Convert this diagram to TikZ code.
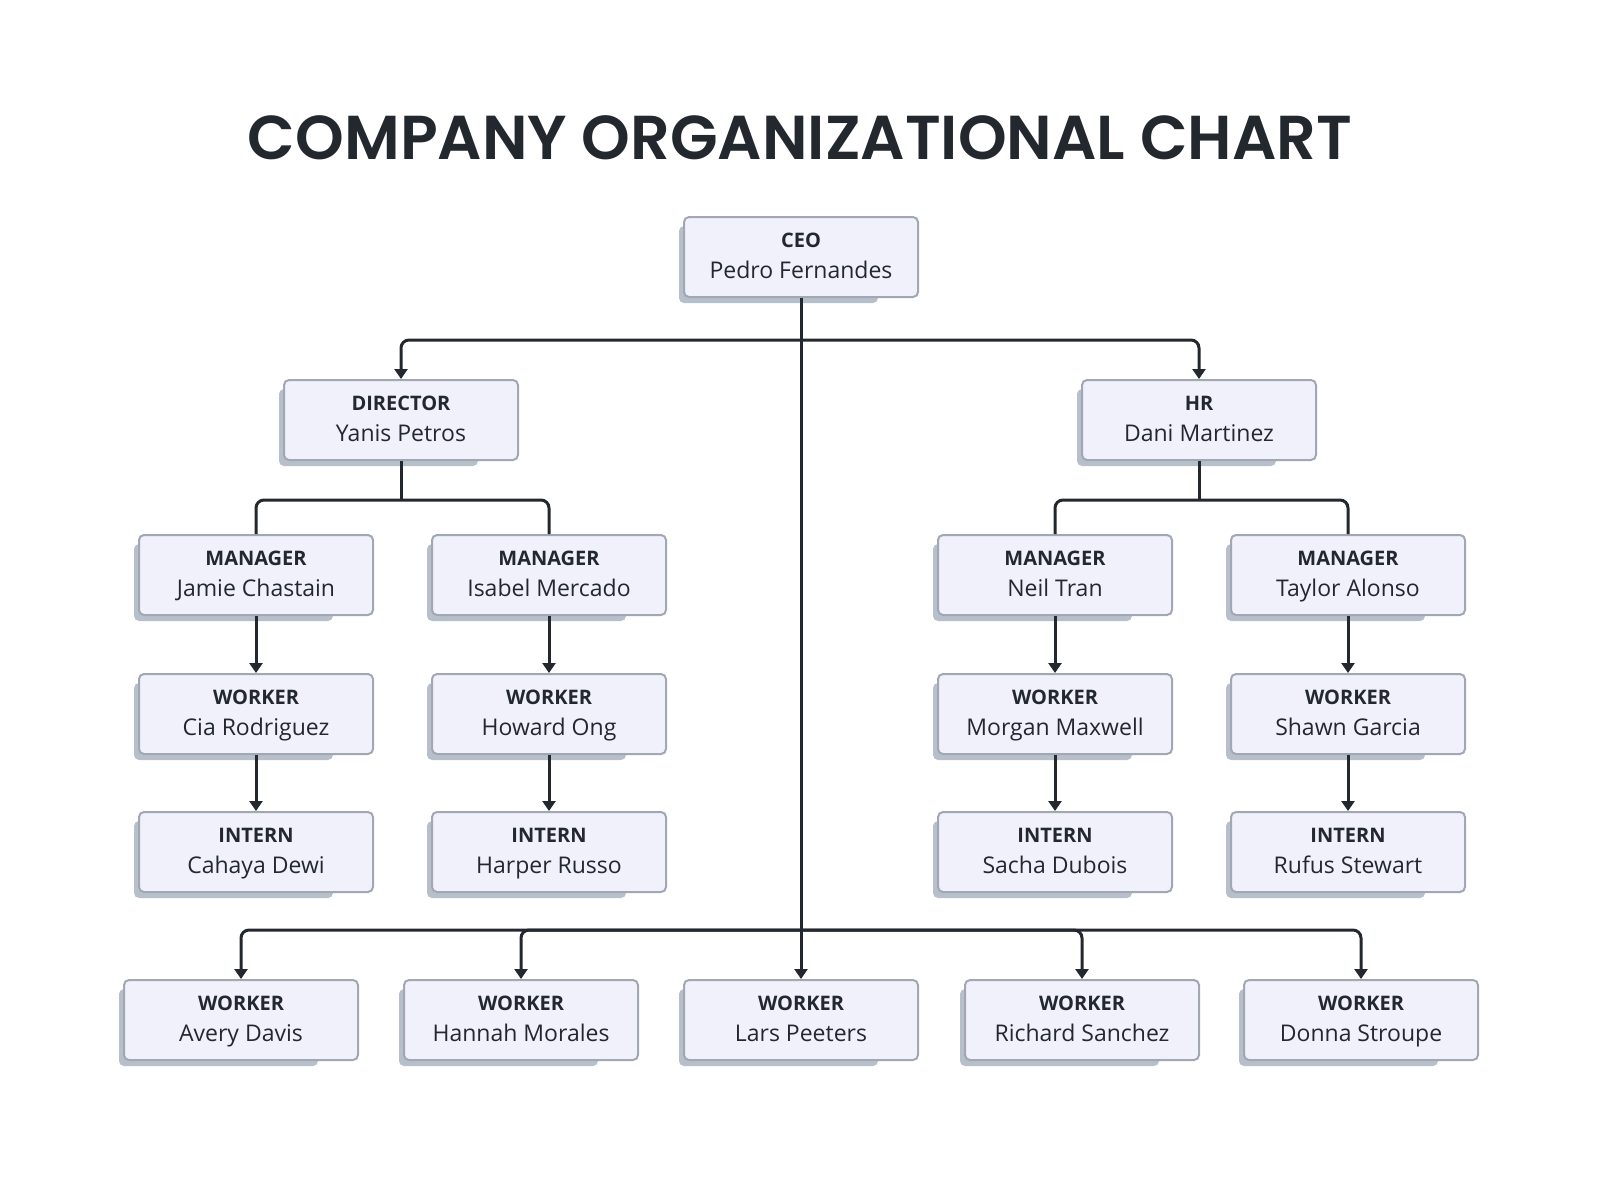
\documentclass[tikz,border=0pt]{standalone}
\usepackage{fontspec}
\setmainfont{Open Sans}
\newfontfamily\headfont{Poppins}[BoldFont={Poppins SemiBold}]
\usepackage{xcolor}
\usetikzlibrary{arrows.meta, backgrounds}
\definecolor{Ink}{HTML}{23282F}
\definecolor{BoxFill}{HTML}{F0F1FB}
\definecolor{BoxLine}{HTML}{A1A8B4}
\definecolor{Shade}{HTML}{B7BFCB}
\tikzset{
  person/.style={draw=BoxLine, fill=BoxFill, line width=2pt, rounded corners=5pt,
                 minimum width=234pt, minimum height=80pt, align=center,
                 text=Ink, font=\fontsize{23}{31}\selectfont, inner sep=0pt},
  arr/.style={-{Triangle[length=10pt,width=13pt]}, line width=3pt, draw=Ink,
              rounded corners=8pt},
  link/.style={line width=3pt, draw=Ink, rounded corners=8pt},
  title/.style={font=\headfont\bfseries\fontsize{62}{70}\selectfont, text=Ink},
}
\newcommand{\who}[2]{{\bfseries\fontsize{20}{31}\selectfont #1\strut}\\#2\strut}

\begin{document}
\begin{tikzpicture}[x=1pt, y=-1pt]
  \useasboundingbox (0,0) rectangle (1600,1200);
  \node[title] (title) at (800,138) {COMPANY ORGANIZATIONAL CHART};

  % ---- top of the tree ----
  \node[person] (ceo)      at (801,257)  {\who{CEO}{Pedro Fernandes}};
  \node[person] (director) at (401,420)  {\who{DIRECTOR}{Yanis Petros}};
  \node[person] (hr)       at (1199,420) {\who{HR}{Dani Martinez}};

  % ---- managers, workers, interns ----
  \node[person] (mgr1) at (256,575)  {\who{MANAGER}{Jamie Chastain}};
  \node[person] (mgr2) at (549,575)  {\who{MANAGER}{Isabel Mercado}};
  \node[person] (mgr3) at (1055,575) {\who{MANAGER}{Neil Tran}};
  \node[person] (mgr4) at (1348,575) {\who{MANAGER}{Taylor Alonso}};

  \node[person] (wkr1) at (256,714)  {\who{WORKER}{Cia Rodriguez}};
  \node[person] (wkr2) at (549,714)  {\who{WORKER}{Howard Ong}};
  \node[person] (wkr3) at (1055,714) {\who{WORKER}{Morgan Maxwell}};
  \node[person] (wkr4) at (1348,714) {\who{WORKER}{Shawn Garcia}};

  \node[person] (int1) at (256,852)  {\who{INTERN}{Cahaya Dewi}};
  \node[person] (int2) at (549,852)  {\who{INTERN}{Harper Russo}};
  \node[person] (int3) at (1055,852) {\who{INTERN}{Sacha Dubois}};
  \node[person] (int4) at (1348,852) {\who{INTERN}{Rufus Stewart}};

  % ---- bottom row ----
  \node[person] (avery)   at (241,1020)  {\who{WORKER}{Avery Davis}};
  \node[person] (hannah)  at (521,1020)  {\who{WORKER}{Hannah Morales}};
  \node[person] (lars)    at (801,1020)  {\who{WORKER}{Lars Peeters}};
  \node[person] (richard) at (1082,1020) {\who{WORKER}{Richard Sanchez}};
  \node[person] (donna)   at (1361,1020) {\who{WORKER}{Donna Stroupe}};

  % ---- box shadows ----
  \begin{scope}[on background layer]
    \foreach \n in {ceo, director, hr, mgr1, mgr2, mgr3, mgr4, wkr1, wkr2, wkr3,
                    wkr4, int1, int2, int3, int4, avery, hannah, lars, richard, donna}
      \fill[Shade, rounded corners=5pt] ([shift={(-4,5)}]\n.south west)
           rectangle ([shift={(-41,10)}]\n.north east);
  \end{scope}

  % ---- connectors ----
  \coordinate (topbus)   at (801,340);
  \coordinate (leftbus)  at (401,500);
  \coordinate (rightbus) at (1199,500);
  \coordinate (lowbus)   at (801,930);

  \draw[arr] (ceo) -- (lars);
  \draw[arr] (topbus) -| (director);
  \draw[arr] (topbus) -| (hr);

  \draw[link] (director) -- (leftbus);
  \draw[link] (leftbus) -| (mgr1);
  \draw[link] (leftbus) -| (mgr2);
  \draw[link] (hr) -- (rightbus);
  \draw[link] (rightbus) -| (mgr3);
  \draw[link] (rightbus) -| (mgr4);

  \draw[arr] (mgr1) -- (wkr1);
  \draw[arr] (mgr2) -- (wkr2);
  \draw[arr] (mgr3) -- (wkr3);
  \draw[arr] (mgr4) -- (wkr4);
  \draw[arr] (wkr1) -- (int1);
  \draw[arr] (wkr2) -- (int2);
  \draw[arr] (wkr3) -- (int3);
  \draw[arr] (wkr4) -- (int4);

  \draw[arr] (lowbus) -| (avery);
  \draw[arr] (lowbus) -| (hannah);
  \draw[arr] (lowbus) -| (richard);
  \draw[arr] (lowbus) -| (donna);
\end{tikzpicture}
\end{document}
